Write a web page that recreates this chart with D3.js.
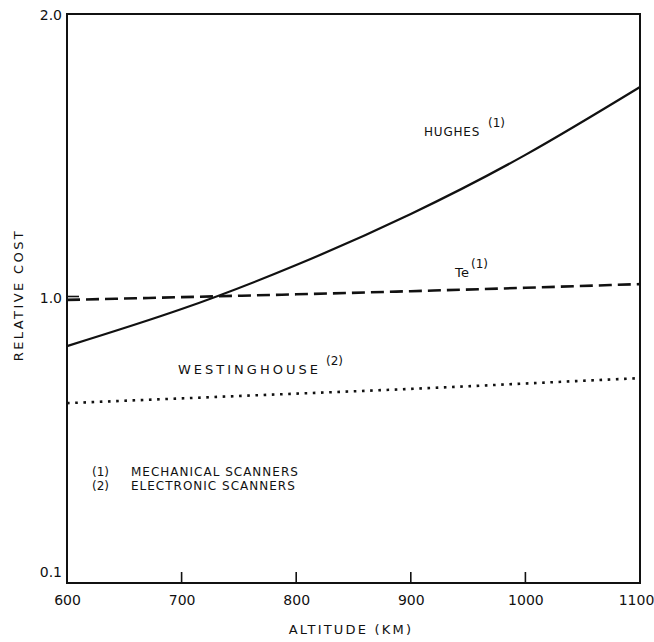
<!DOCTYPE html>
<html>
<head>
<meta charset="utf-8">
<script src="https://cdn.jsdelivr.net/npm/d3@7"></script>
<style>
  html, body { margin: 0; padding: 0; background: #fff; }
  svg { display: block; }
  text { font-family: "DejaVu Sans", sans-serif; fill: #111; }
</style>
</head>
<body>
<svg id="chart" width="654" height="642"></svg>
<script>
// ---- data ----
const altitudes = [600, 700, 800, 900, 1000, 1100];
const hughes = [0.848, 0.965, 1.116, 1.296, 1.504, 1.743];
const te = [0.994, 1.003, 1.013, 1.024, 1.036, 1.049];
const westinghouse = [0.668, 0.683, 0.698, 0.713, 0.730, 0.747];
const xTicks = [600, 700, 800, 900, 1000, 1100];
const yTicks = [0.1, 1.0, 2.0];
const yTickLabels = ["0.1", "1.0", "2.0"];
const legendKeys = ["(1)", "(2)"];
const legendTexts = ["MECHANICAL SCANNERS", "ELECTRONIC SCANNERS"];

// ---- layout ----
const mLeft = 67, mRight = 640, mTop = 14, mBottom = 583;
const svg = d3.select("#chart");

const x = d3.scaleLinear().domain([600, 1100]).range([mLeft, mRight]);
// the original axis spaces 0.1 -> 1.0 and 1.0 -> 2.0 equally
const y = d3.scaleLinear().domain([0.1, 1.0, 2.0]).range([mBottom, 298, mTop]);

// frame
svg.append("rect")
  .attr("x", mLeft).attr("y", mTop)
  .attr("width", mRight - mLeft).attr("height", mBottom - mTop)
  .attr("fill", "none").attr("stroke", "#111").attr("stroke-width", 2);

// x axis (labels)
const gx = svg.append("g").attr("transform", `translate(0,${mBottom})`)
  .call(d3.axisBottom(x).tickValues(xTicks).tickFormat(d3.format("d"))
    .tickSize(0).tickPadding(12));
gx.select(".domain").remove();
gx.selectAll(".tick text").style("font-size", "14px").attr("fill", "#111")
  .style("font-family", "DejaVu Sans, sans-serif")
  .attr("dx", d => d === 1100 ? "-4" : "0");

// inner x tick marks
svg.append("g").selectAll("line")
  .data(xTicks.slice(1, -1))
  .join("line")
  .attr("x1", d => x(d)).attr("x2", d => x(d))
  .attr("y1", mBottom).attr("y2", mBottom - 11)
  .attr("stroke", "#111").attr("stroke-width", 1.6);

// y axis (labels)
const gy = svg.append("g").attr("transform", `translate(${mLeft},0)`)
  .call(d3.axisLeft(y).tickValues(yTicks)
    .tickFormat((d, i) => yTickLabels[i])
    .tickSize(0).tickPadding(5));
gy.select(".domain").remove();
gy.selectAll(".tick text").style("font-size", "14px").attr("fill", "#111")
  .style("font-family", "DejaVu Sans, sans-serif")
  .attr("dy", d => d === 0.1 ? "-0.45em" : (d === 2.0 ? "0.4em" : "0.32em"));

// inner y tick mark at 1.0
svg.append("g").selectAll("line")
  .data([1.0])
  .join("line")
  .attr("x1", mLeft).attr("x2", mLeft + 12)
  .attr("y1", d => y(d) - 1.5).attr("y2", d => y(d) - 1.5)
  .attr("stroke", "#111").attr("stroke-width", 1.6);

// axis titles
svg.append("text")
  .attr("x", 351).attr("y", 634)
  .attr("text-anchor", "middle")
  .style("font-size", "13px").style("letter-spacing", "2.2px")
  .text("ALTITUDE (KM)");
svg.append("text")
  .attr("transform", `translate(23,295) rotate(-90)`)
  .attr("text-anchor", "middle")
  .style("font-size", "13px").style("letter-spacing", "2.4px")
  .text("RELATIVE COST");

// lines
const line = d3.line().x((d, i) => x(altitudes[i])).y(d => y(d)).curve(d3.curveNatural);

svg.append("path").datum(hughes).attr("d", line)
  .attr("fill", "none").attr("stroke", "#111").attr("stroke-width", 2.2);
svg.append("path").datum(te).attr("d", line)
  .attr("fill", "none").attr("stroke", "#111").attr("stroke-width", 2.6)
  .attr("stroke-dasharray", "13,6");
svg.append("path").datum(westinghouse).attr("d", line)
  .attr("fill", "none").attr("stroke", "#111").attr("stroke-width", 2.6)
  .attr("stroke-dasharray", "2.6,5.6");

// line labels
function label(tx, ty, main, sup, size, spacing, supX) {
  svg.append("text").attr("x", tx).attr("y", ty)
    .style("font-size", size + "px").style("letter-spacing", spacing + "px")
    .text(main);
  svg.append("text").attr("x", supX).attr("y", ty - 9)
    .style("font-size", "12px").text(sup);
}
label(424, 136, "HUGHES", "(1)", 12, 0.8, 488);
label(455, 277, "Te", "(1)", 13, 0.3, 471);
label(178, 374, "WESTINGHOUSE", "(2)", 13, 3, 326);

// legend
legendKeys.forEach((k, i) => {
  svg.append("text").attr("x", 92).attr("y", 476 + i * 14)
    .style("font-size", "12px").text(k);
  svg.append("text").attr("x", 131).attr("y", 476 + i * 14)
    .style("font-size", "12px").style("letter-spacing", "1px").text(legendTexts[i]);
});
</script>
</body>
</html>
